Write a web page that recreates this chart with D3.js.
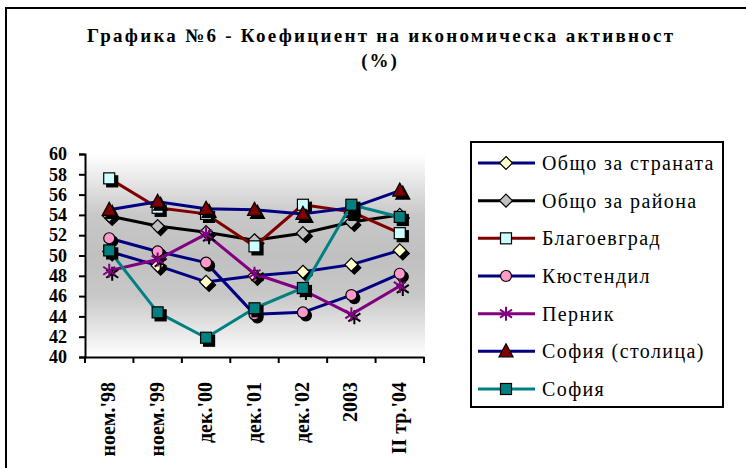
<!DOCTYPE html>
<html>
<head>
<meta charset="utf-8">
<script src="https://cdn.jsdelivr.net/npm/d3@7"></script>
<style>
  body { margin: 0; background: #fff; }
  text { font-family: "Liberation Serif", "Times New Roman", serif; fill: #000; }
</style>
</head>
<body>
<div id="chart"></div>
<script>
// categories and tick values
var categories = ["ноем.'98", "ноем.'99", "дек.'00", "дек.'01", "дек.'02", "2003", "II тр.'04"];
var yTicks = [40, 42, 44, 46, 48, 50, 52, 54, 56, 58, 60];

// series values (%)
var obshtoStrana = [50.4, 49.0, 47.4, 48.0, 48.4, 49.1, 50.5];
var obshtoRayon = [53.9, 52.9, 52.3, 51.5, 52.2, 53.3, 54.0];
var blagoevgrad = [57.6, 54.7, 54.1, 50.9, 55.0, 54.3, 52.2];
var kyustendil = [51.7, 50.4, 49.3, 44.2, 44.4, 46.1, 48.2];
var pernik = [48.5, 49.6, 52.1, 48.2, 46.6, 44.2, 47.0];
var sofiaStolitsa = [54.5, 55.3, 54.6, 54.5, 54.1, 54.7, 56.4];
var sofia = [50.5, 44.4, 41.9, 44.8, 46.8, 55.0, 53.8];

var seriesNames = ["Общо за страната", "Общо за района", "Благоевград", "Кюстендил", "Перник", "София (столица)", "София"];
var seriesValues = [obshtoStrana, obshtoRayon, blagoevgrad, kyustendil, pernik, sofiaStolitsa, sofia];

var series = seriesNames.map(function(name, i) {
  return { name: name, values: seriesValues[i] };
});

// looks of each series
var looks = [
  { line: "#000080", fill: "#FFFFCC", shape: "diamond" },
  { line: "#000000", fill: "#C0C0C0", shape: "diamond" },
  { line: "#800000", fill: "#CCFFFF", shape: "square" },
  { line: "#000080", fill: "#FF99CC", shape: "circle" },
  { line: "#800080", fill: "#800080", shape: "star" },
  { line: "#000080", fill: "#800000", shape: "triangle" },
  { line: "#008080", fill: "#008080", shape: "square" }
];

var svgWidth = 746, svgHeight = 468;
var plot = { left: 85, right: 425, top: 154, bottom: 357 };

var svg = d3.select("#chart").append("svg")
  .attr("width", svgWidth)
  .attr("height", svgHeight);

// chart border
svg.append("rect")
  .attr("x", 6).attr("y", 8)
  .attr("width", 760).attr("height", 480)
  .attr("fill", "#fff")
  .attr("stroke", "#000")
  .attr("stroke-width", 2);

// title
svg.append("text")
  .attr("x", 87).attr("y", 42)
  .attr("textLength", 586)
  .attr("lengthAdjust", "spacing")
  .style("font-size", "19px")
  .style("font-weight", "bold")
  .text("Графика №6 - Коефициент на икономическа активност");

svg.append("text")
  .attr("x", 380).attr("y", 67)
  .attr("text-anchor", "middle")
  .style("font-size", "19px")
  .style("font-weight", "bold")
  .style("letter-spacing", "2px")
  .text("(%)");

// gradient for plot area
var grad = svg.append("defs").append("linearGradient")
  .attr("id", "bg").attr("x1", 0).attr("y1", 0).attr("x2", 0).attr("y2", 1);
grad.append("stop").attr("offset", "0%").attr("stop-color", "#ffffff");
grad.append("stop").attr("offset", "30%").attr("stop-color", "#c8c8c8");
grad.append("stop").attr("offset", "50%").attr("stop-color", "#c0c0c0");
grad.append("stop").attr("offset", "70%").attr("stop-color", "#c8c8c8");
grad.append("stop").attr("offset", "100%").attr("stop-color", "#ffffff");

svg.append("rect")
  .attr("x", plot.left).attr("y", plot.top)
  .attr("width", plot.right - plot.left)
  .attr("height", plot.bottom - plot.top)
  .attr("fill", "url(#bg)");

// scales
var xBand = d3.scaleBand()
  .domain(categories)
  .range([plot.left, plot.right - 1]);

var xScale = d3.scalePoint()
  .domain(categories)
  .range([plot.left, plot.right - 1])
  .padding(0.5);

var yScale = d3.scaleLinear()
  .domain([40, 60])
  .range([plot.bottom, plot.top]);

// y axis
var yAxis = d3.axisLeft(yScale)
  .tickValues(yTicks)
  .tickSize(6)
  .tickPadding(12);

var yG = svg.append("g")
  .attr("transform", "translate(" + plot.left + ",0)")
  .call(yAxis);
yG.select(".domain").attr("stroke", "#000").attr("stroke-width", 2);
yG.selectAll(".tick line").attr("stroke", "#000").attr("stroke-width", 2);
yG.selectAll(".tick text")
  .style("font-family", "'Liberation Serif', serif")
  .style("font-size", "18px")
  .style("font-weight", "bold")
  .attr("fill", "#000");

// x axis (ticks between categories)
var xAxis = d3.axisBottom(xBand)
  .tickSize(0)
  .tickFormat("");
var xG = svg.append("g")
  .attr("transform", "translate(0," + plot.bottom + ")")
  .call(xAxis);
xG.select(".domain").attr("stroke", "#000").attr("stroke-width", 2);

var bounds = categories.map(function(c) { return xBand(c); }).concat([xBand(categories[categories.length - 1]) + xBand.bandwidth()]);
xG.selectAll(".sep")
  .data(bounds)
  .enter().append("line")
  .attr("x1", d => d).attr("x2", d => d)
  .attr("y1", 0).attr("y2", 6)
  .attr("stroke", "#000").attr("stroke-width", 2);

svg.selectAll(".xlabel")
  .data(categories)
  .enter().append("text")
  .attr("transform", d => "translate(" + (xScale(d) + 6) + ",382) rotate(-90)")
  .attr("text-anchor", "end")
  .style("font-size", "20px")
  .style("font-weight", "bold")
  .text(d => d);

// markers
function drawMarker(g, shape, fill, stroke) {
  if (shape === "diamond") {
    g.append("path").attr("d", "M0,-6.5L6.5,0L0,6.5L-6.5,0Z")
      .attr("fill", fill).attr("stroke", stroke).attr("stroke-width", 1.2);
  } else if (shape === "square") {
    g.append("rect").attr("x", -5.5).attr("y", -5.5).attr("width", 11).attr("height", 11)
      .attr("fill", fill).attr("stroke", stroke).attr("stroke-width", 1.2);
  } else if (shape === "circle") {
    g.append("circle").attr("r", 5.5)
      .attr("fill", fill).attr("stroke", stroke).attr("stroke-width", 1.2);
  } else if (shape === "triangle") {
    g.append("path").attr("d", "M0,-7.5L7,5.5L-7,5.5Z")
      .attr("fill", fill).attr("stroke", stroke).attr("stroke-width", 1.2);
  } else if (shape === "star") {
    g.append("path").attr("d", "M0,-7L0,7M-6,-4L6,4M-6,4L6,-4")
      .attr("fill", "none").attr("stroke", fill).attr("stroke-width", 2);
  }
}

var line = d3.line()
  .x((d, i) => xScale(categories[i]))
  .y(d => yScale(d));

series.forEach(function(s, k) {
  var look = looks[k];
  var g = svg.append("g");
  g.append("path")
    .datum(s.values)
    .attr("d", line)
    .attr("fill", "none")
    .attr("stroke", look.line)
    .attr("stroke-width", 3)
    .attr("stroke-linejoin", "round");

  s.values.forEach(function(v, i) {
    var cx = xScale(categories[i]), cy = yScale(v);
    // black shadow
    var sh = g.append("g").attr("transform", "translate(" + (cx + 3) + "," + (cy + 3) + ")");
    drawMarker(sh, look.shape, "#000", "#000");
    var m = g.append("g").attr("transform", "translate(" + cx + "," + cy + ")");
    drawMarker(m, look.shape, look.fill, "#000");
  });
});

// legend
var legend = svg.append("g");
legend.append("rect")
  .attr("x", 471).attr("y", 142)
  .attr("width", 252).attr("height", 265)
  .attr("fill", "#fff")
  .attr("stroke", "#000")
  .attr("stroke-width", 2);

var legendRow = d3.scaleLinear().domain([0, 6]).range([163, 389]);

series.forEach(function(s, k) {
  var look = looks[k];
  var y = legendRow(k);
  legend.append("line")
    .attr("x1", 478).attr("x2", 535)
    .attr("y1", y).attr("y2", y)
    .attr("stroke", look.line)
    .attr("stroke-width", 3);
  var m = legend.append("g").attr("transform", "translate(506," + y + ")");
  drawMarker(m, look.shape, look.fill, "#000");
  legend.append("text")
    .attr("x", 542).attr("y", y + 7)
    .style("font-size", "20px")
    .style("letter-spacing", "1.4px")
    .text(s.name);
});
</script>
</body>
</html>
